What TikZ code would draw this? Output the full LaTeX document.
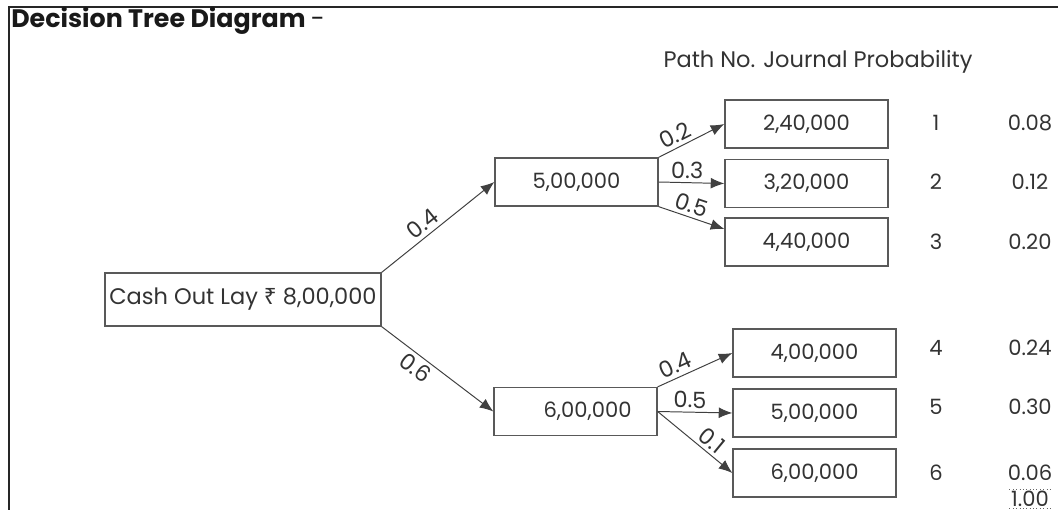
\documentclass[tikz,border=0pt]{standalone}
\usepackage{fontspec}
\setmainfont{Poppins}
\newfontfamily\rupeefont{Noto Sans}
\usetikzlibrary{arrows.meta}

\begin{document}
\begin{tikzpicture}[x=0.025cm, y=-0.025cm,
        every node/.style={font=\fontsize{15}{18}\selectfont, text=black!80},
        box/.style={
            draw=black!65,
            line width=0.9pt,
            minimum width=4.075cm,
            minimum height=1.2cm,
            inner sep=0pt
        },
        rootbox/.style={
            box,
            minimum width=6.9cm,
            minimum height=1.325cm,
            font=\fontsize{16}{19}\selectfont
        },
        lbl/.style={font=\fontsize{16}{18}\selectfont, inner sep=2.5pt, sloped},
        arrow/.style={draw=black!75, line width=0.7pt, -{Latex[length=3.4mm,width=2.7mm]}}
    ]
    \useasboundingbox (0,0) rectangle (1058,510);

    % Frame and title
    \coordinate (frametop) at (1058,7);
    \coordinate (framecorner) at (9,7);
    \coordinate (framebottom) at (9,510);
    \draw[black!85, line width=1pt] (frametop) -- (framecorner) -- (framebottom);
    \node[anchor=base west, inner sep=0pt, text=black!90,
          font=\fontsize{18}{21}\selectfont] (title) at (11,28)
        {\bfseries Decision Tree Diagram \mdseries-};

    % Root and first stage
    \node[rootbox] (root) at (243,299.5) {Cash Out Lay {\rupeefont ₹} 8,00,000};
    \node[box] (up)   at (576.5,182) {5,00,000};
    \node[box] (down) at (575.5,411.5) {\hspace*{0.6cm}6,00,000};

    % Outcome nodes
    \node[box] (out1) at (806.5,124) {2,40,000};
    \node[box] (out2) at (806.5,183.5) {3,20,000};
    \node[box] (out3) at (806.5,242) {4,40,000};
    \node[box] (out4) at (814.5,353) {4,00,000};
    \node[box] (out5) at (814.5,413) {5,00,000};
    \node[box] (out6) at (814.5,473) {6,00,000};

    % Arrows
    \draw[arrow] (root.north east) -- node[lbl, pos=0.43, above] {0.4} (up.west);
    \draw[arrow] (root.south east) -- node[lbl, pos=0.37, below] {0.6} (down.west);
    \draw[arrow] (up.north east) -- node[lbl, pos=0.33, above] {0.2} (out1.west);
    \draw[arrow] (up.east) -- node[lbl, pos=0.43, above] {0.3} (out2.west);
    \draw[arrow] (up.south east) -- node[lbl, pos=0.44, above] {0.5} (out3.171);
    \draw[arrow] (down.north east) -- node[lbl, pos=0.3, above] {0.4} (out4.west);
    \draw[arrow] (down.east) -- node[lbl, pos=0.43, above] {0.5} (out5.west);
    \draw[arrow] (down.east) -- node[lbl, pos=0.62, above] {0.1} (out6.west);

    % Table
    \node[font=\fontsize{16}{19}\selectfont] (head) at (818,62) {Path No. Journal Probability};
    \node (no1) at (936,123) {1};
    \node (no2) at (936,182) {2};
    \node (no3) at (936,242) {3};
    \node (no4) at (936,348) {4};
    \node (no5) at (936,407) {5};
    \node (no6) at (936,473) {6};
    \node (p1) at (1030,123) {0.08};
    \node (p2) at (1030,182) {0.12};
    \node (p3) at (1030,242) {0.20};
    \node (p4) at (1030,348) {0.24};
    \node (p5) at (1030,407) {0.30};
    \node (p6) at (1030,473) {0.06};
    \node[inner sep=1pt] (total) at (1030,499) {1.00};
    \draw[black!60, dotted] (total.north west) -- (total.north east);
    \draw[black!60, dotted] (total.south west) -- (total.south east);

\end{tikzpicture}
\end{document}
